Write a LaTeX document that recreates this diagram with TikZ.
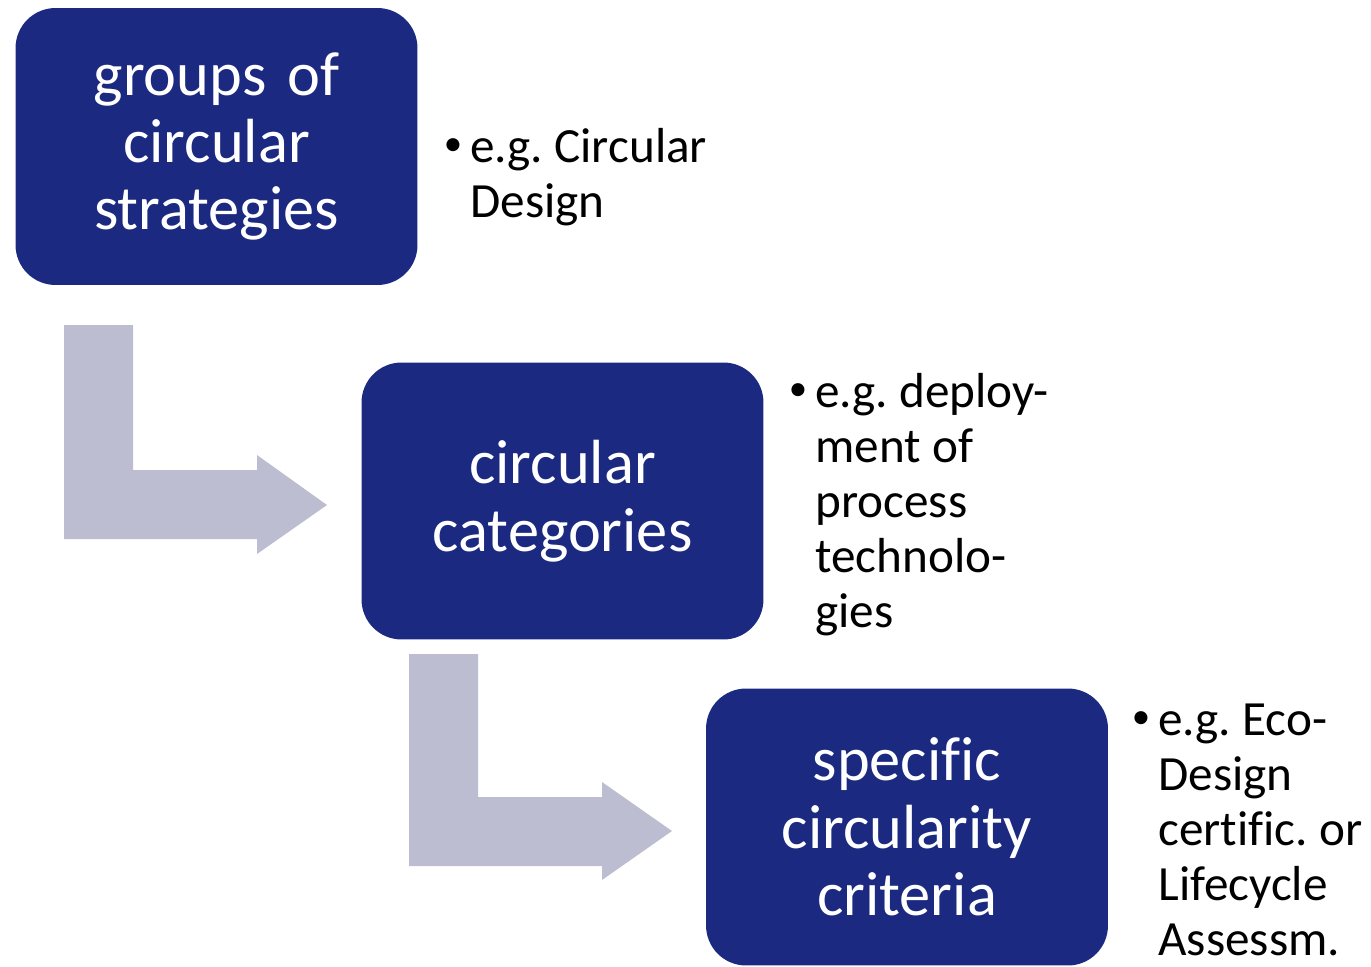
\documentclass[tikz,border=0pt]{standalone}
\usepackage{fontspec}
\setmainfont{Carlito}[Ligatures=NoCommon]
\usepackage{xcolor}
\definecolor{navy}{HTML}{1B2A80}
\definecolor{arrowgray}{HTML}{BCBDD0}
\tikzset{
  stage/.style={fill=navy, text=white, rounded corners=0.8cm, minimum width=8.04cm,
    minimum height=5.54cm, text width=7.4cm, align=center, inner sep=0pt,
    font=\fontsize{35.5}{38.4}\selectfont\frenchspacing},
  example/.style={anchor=base west, align=left, inner sep=0pt,
    font=\fontsize{28}{31.3}\selectfont\frenchspacing},
  bulletmark/.style={anchor=base, inner sep=0pt, font=\fontsize{21}{24}\selectfont},
  bentarrow/.style={fill=arrowgray}
}
\begin{document}
\begin{tikzpicture}[x=0.02cm, y=-0.02cm]
    \useasboundingbox (0, 0) rectangle (1371, 966);
    % grey bent arrows
    \fill [bentarrow] (64, 325) -- (133, 325) -- (133, 470) -- (257, 470) -- (257, 455)
      -- (327, 505) -- (257, 554) -- (257, 539) -- (64, 539) -- cycle;
    \fill [bentarrow] (409, 654) -- (478, 654) -- (478, 797) -- (602, 797) -- (602, 782)
      -- (672, 831) -- (602, 880) -- (602, 866) -- (409, 866) -- cycle;
    % stages
    \node [stage] (groups) at (216.5, 146.5) {groups of\\ circular\\ strategies};
    \node [stage] (categories) at (562.5, 501) {circular\\ categories};
    \node [stage] (criteria) at (907, 827) {specific\\ circularity\\ criteria};
    % examples (anchored at the last baseline)
    \node [example] (ex1) at (470, 217) {e.g. Circular\\ Design};
    \node [example] (ex2) at (815, 627) {e.g. deploy-\\ ment of\\ process\\ technolo-\\ gies};
    \node [example] (ex3) at (1158, 955) {e.g. Eco-\\ Design\\ certific. or\\ Lifecycle\\ Assessm.};
    \node [bulletmark] (b1) at (453, 155) {\textbullet};
    \node [bulletmark] (b2) at (798, 400) {\textbullet};
    \node [bulletmark] (b3) at (1141, 728) {\textbullet};
  \end{tikzpicture}
\end{document}
